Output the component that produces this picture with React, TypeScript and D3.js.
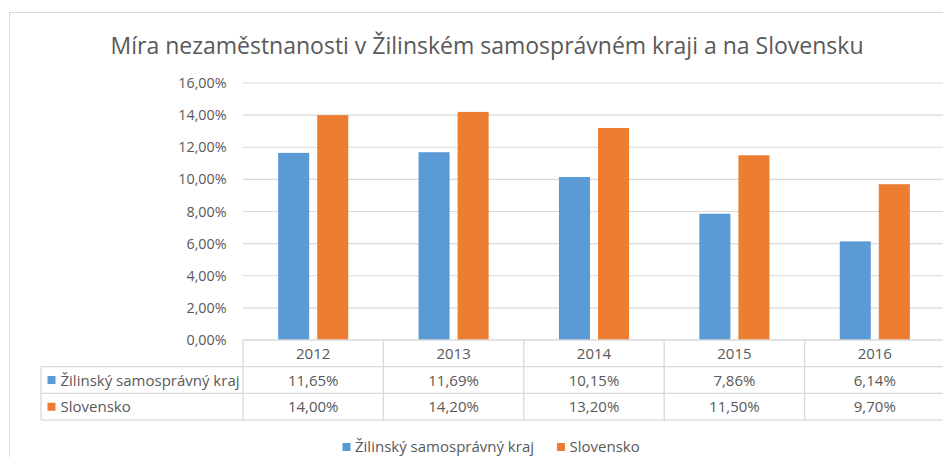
import React from "react";
import * as d3 from "d3";

const years = ["2012", "2013", "2014", "2015", "2016"];
const seriesNames = ["Žilinský samosprávný kraj", "Slovensko"];
const zilina = [11.65, 11.69, 10.15, 7.86, 6.14];
const slovensko = [14.0, 14.2, 13.2, 11.5, 9.7];
const yTicks = [0, 2, 4, 6, 8, 10, 12, 14, 16];
const colors = ["#5B9BD5", "#ED7D31"];
const title = "Míra nezaměstnanosti v Žilinském samosprávném kraji a na Slovensku";

const fmt = (v: number) => v.toFixed(2).replace(".", ",") + "%";

export default function App() {
  const W = 951, H = 465;
  const plotL = 243, plotR = 945, plotT = 83, plotB = 340;
  const tableL = 41;
  const rowH = 26.7;
  const font = "'Open Sans', 'Liberation Sans', sans-serif";
  const textColor = "#595959";
  const gridColor = "#D9D9D9";

  const x = d3.scaleBand().domain(years).range([plotL, plotR]).padding(0);
  const inner = d3.scaleBand().domain(["0", "1"]).range([0, x.bandwidth()]).paddingInner(0.205).paddingOuter(0.9);
  const y = d3.scaleLinear().domain([0, 16]).range([plotB, plotT]);
  const series = [zilina, slovensko];

  return (
    <div style={{ margin: "-8px" }}>
      <svg width={W} height={H} style={{ display: "block" }} fontFamily={font}>
        <rect x={0} y={0} width={W} height={H} fill="#fff" />
        <rect x={9.5} y={12.5} width={W + 20} height={H + 20} fill="none" stroke="#D9D9D9" />
        <text x={487} y={54} textAnchor="middle" fontSize={23} fill={textColor}>{title}</text>
        {yTicks.map((t) => (
          <g key={t}>
            {t > 0 && <line x1={plotL} x2={plotR} y1={y(t)} y2={y(t)} stroke={gridColor} strokeWidth={1.2} />}
            <text x={226.5} y={y(t) + 5} textAnchor="end" fontSize={14.3} fill={textColor}>{fmt(t)}</text>
          </g>
        ))}
        {series.map((s, si) =>
          s.map((v, i) => (
            <rect key={si + "-" + i} x={(x(years[i]) as number) + (inner(String(si)) as number)} y={y(v)} width={inner.bandwidth()} height={plotB - y(v)} fill={colors[si]} />
          ))
        )}
        {/* table */}
        <g stroke={gridColor} strokeWidth={1.3} fill="none">
          <line x1={plotL} x2={plotR} y1={plotB} y2={plotB} />
          <line x1={tableL} x2={plotR} y1={plotB + rowH} y2={plotB + rowH} />
          <line x1={tableL} x2={plotR} y1={plotB + 2 * rowH} y2={plotB + 2 * rowH} />
          <line x1={tableL} x2={plotR} y1={plotB + 3 * rowH} y2={plotB + 3 * rowH} />
          <line x1={tableL} x2={tableL} y1={plotB + rowH} y2={plotB + 3 * rowH} />
          {years.map((yr) => (
            <line key={yr} x1={x(yr)} x2={x(yr)} y1={plotB} y2={plotB + 3 * rowH} />
          ))}
          <line x1={plotR} x2={plotR} y1={plotB} y2={plotB + 3 * rowH} />
        </g>
        {years.map((yr) => (
          <text key={yr} x={(x(yr) as number) + x.bandwidth() / 2} y={plotB + rowH / 2 + 5.5} textAnchor="middle" fontSize={15} fill={textColor}>{yr}</text>
        ))}
        {series.map((s, si) => (
          <g key={si}>
            <rect x={47.5} y={plotB + rowH * (si + 1) + rowH / 2 - 4} width={8} height={8} fill={colors[si]} />
            <text x={60.5} y={plotB + rowH * (si + 1) + rowH / 2 + 5.5} fontSize={15} fill={textColor}>{seriesNames[si]}</text>
            {s.map((v, i) => (
              <text key={i} x={(x(years[i]) as number) + x.bandwidth() / 2} y={plotB + rowH * (si + 1) + rowH / 2 + 5.5} textAnchor="middle" fontSize={15} fill={textColor}>{fmt(v)}</text>
            ))}
          </g>
        ))}
        {/* legend */}
        {[342.5, 557].map((lx, si) => (
          <g key={si}>
            <rect x={lx} y={443} width={8} height={8} fill={colors[si]} />
            <text x={lx + 12.5} y={451.5} fontSize={15} fill={textColor}>{seriesNames[si]}</text>
          </g>
        ))}
      </svg>
    </div>
  );
}
